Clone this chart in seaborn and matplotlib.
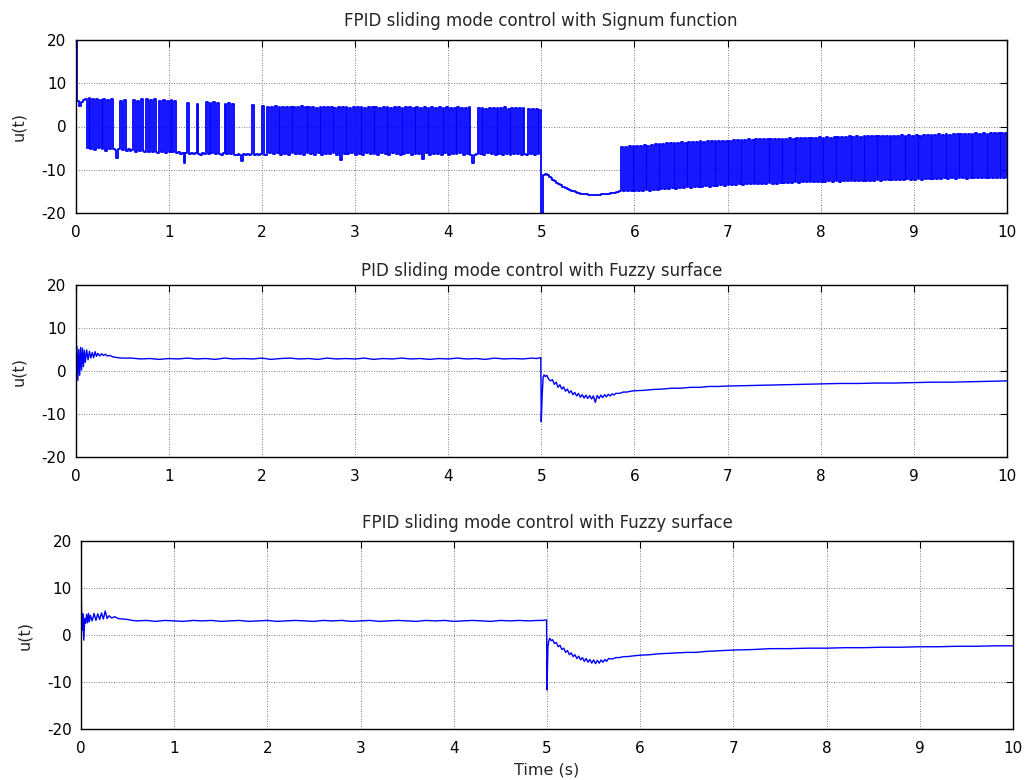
import numpy as np
import pandas as pd
import matplotlib
matplotlib.use("Agg")
import matplotlib.pyplot as plt
import seaborn as sns

# ---------------- data ----------------
titles = ["FPID sliding mode control with Signum function",
          "PID sliding mode control with Fuzzy surface",
          "FPID sliding mode control with Fuzzy surface"]
x_ticks = [0, 1, 2, 3, 4, 5, 6, 7, 8, 9, 10]
y_ticks = [-20, -10, 0, 10, 20]

# Plot 1: signum control, sampled every 0.02 s from 0 to 10 s
sig_u = [
    20.0, 6.0, 4.8, 5.6, 6.2, 6.4, -5.0, 6.5, -5.2, 6.3, -5.4, 6.4, -4.9, 6.1, -5.3, 6.3, -5.6, 6.2, -5.1, 6.4, -5.3, -5.5, -7.3, -5.2, 6.0,
    -5.4, 6.1, -5.6, -5.3, -5.7, -5.5, 6.2, -5.8, 6.0, -5.6, 6.3, -5.7, -6.0, 6.4, -5.9, 6.1, -5.8, 6.3, -6.0, -6.2, 6.0, -5.8, 6.2, -6.1, 5.9,
    -6.0, 6.1, -5.9, 6.0, -6.2, -6.0, -6.4, -6.1, -8.5, -6.2, 5.5, -6.3, -6.1, -6.4, -6.2, 5.3, -6.3, -6.5, -6.2, -6.4, 5.6, -6.3, 5.4, -6.2, 5.7,
    -6.4, 5.5, -6.3, -6.5, -6.2, 5.2, -6.4, 5.4, -6.3, 5.3, -6.5, -6.6, -6.3, -6.5, -8.0, -6.4, -6.6, -6.3, -6.5, -6.4, 5.0, -6.5, -6.3, -6.6, -6.4,
    4.8, -6.5, -6.7, 4.6, -6.2, 4.5, -6.4, 4.7, -6.1, 4.4, -6.6, 4.6, -6.3, 4.5, -6.5, 4.4, -6.2, 4.6, -6.4, 4.5, -6.3, 4.7, -6.6, 4.5, -6.2,
    4.4, -6.3, 4.6, -6.5, 4.3, -6.2, 4.5, -6.6, 4.4, -6.3, 4.5, -6.4, 4.6, -6.1, 4.3, -6.5, 4.5, -7.8, 4.4, -6.3, 4.6, -6.4, 4.3, -6.2, 4.5,
    -6.5, 4.4, -6.3, 4.5, -6.6, 4.3, -6.2, 4.6, -6.4, 4.4, -6.3, 4.5, -6.5, 4.3, -6.1, 4.5, -6.4, 4.4, -6.6, 4.3, -6.2, 4.5, -6.3, 4.4, -6.5,
    4.3, -6.4, 4.5, -6.2, 4.4, -6.6, 4.2, -6.3, 4.5, -6.4, 4.3, -7.5, 4.4, -6.2, 4.3, -6.5, 4.5, -6.3, 4.2, -6.4, 4.4, -6.6, 4.3, -6.2, 4.4,
    -6.5, 4.3, -6.3, 4.2, -6.4, 4.4, -6.2, 4.3, -6.6, 4.2, -6.3, 4.4, -6.5, -8.5, -6.6, -6.4, 4.2, -6.3, 4.3, -6.5, 4.1, -6.2, 4.3, -6.4, 4.2,
    -6.5, 4.3, -6.3, 4.2, -6.6, 4.4, -6.3, 4.1, -6.5, 4.3, -6.4, 4.2, -6.3, 4.3, -6.5, 4.2, -6.4, -6.6, 4.0, -6.3, 4.1, -6.5, 4.0, -6.4, 3.8,
    -20.0, -11.3, -10.9, -11.2, -11.6, -12.0, -12.3, -12.7, -13.0, -13.3, -13.6, -13.9, -14.1, -14.3, -14.5, -14.7, -14.9, -15.0, -15.2, -15.3, -15.4, -15.5, -15.6, -15.7, -15.7,
    -15.8, -15.8, -15.8, -15.9, -15.8, -15.8, -15.8, -15.7, -15.7, -15.6, -15.6, -15.5, -15.4, -15.3, -15.3, -15.2, -15.1, -15.0, -4.8, -15.0, -4.7, -14.9, -4.6, -15.0, -4.6,
    -14.9, -4.5, -14.8, -4.4, -15.0, -4.3, -14.7, -4.4, -14.8, -4.2, -14.6, -4.1, -14.7, -4.0, -14.5, -4.1, -14.4, -3.9, -14.5, -3.8, -14.3, -3.9, -14.4, -3.7, -14.2,
    -3.6, -14.3, -3.7, -14.1, -3.5, -14.2, -3.6, -14.0, -3.5, -13.9, -3.4, -14.0, -3.5, -13.8, -3.4, -13.9, -3.3, -13.7, -3.4, -13.8, -3.3, -13.6, -3.4, -13.7, -3.3,
    -13.6, -3.3, -13.5, -3.2, -13.6, -3.1, -13.4, -3.2, -13.5, -3.1, -13.3, -3.0, -13.4, -3.1, -13.3, -3.0, -13.2, -2.9, -13.3, -3.0, -13.2, -2.9, -13.1, -2.9, -13.2,
    -2.9, -13.2, -2.8, -13.1, -2.9, -13.0, -2.8, -13.1, -2.7, -13.0, -2.8, -12.9, -2.7, -13.0, -2.6, -12.9, -2.7, -12.8, -2.6, -12.9, -2.7, -12.8, -2.6, -12.9, -2.5,
    -12.9, -2.6, -12.8, -2.5, -12.7, -2.6, -12.8, -2.5, -12.7, -2.4, -12.8, -2.5, -12.6, -2.4, -12.7, -2.3, -12.6, -2.4, -12.5, -2.3, -12.6, -2.4, -12.5, -2.3, -12.6,
    -2.3, -12.5, -2.2, -12.6, -2.3, -12.4, -2.2, -12.5, -2.1, -12.4, -2.2, -12.3, -2.1, -12.4, -2.2, -12.3, -2.1, -12.4, -2.0, -12.3, -2.1, -12.2, -2.0, -12.3, -2.1,
    -12.3, -2.0, -12.2, -2.1, -12.3, -1.9, -12.2, -2.0, -12.1, -1.9, -12.2, -2.0, -12.1, -1.8, -12.2, -1.9, -12.0, -1.8, -12.1, -1.9, -12.0, -1.8, -12.1, -1.7, -12.0,
    -1.8, -12.0, -1.7, -12.1, -1.8, -11.9, -1.7, -12.0, -1.6, -11.9, -1.7, -12.0, -1.6, -11.8, -1.7, -11.9, -1.6, -11.8, -1.5, -11.9, -1.6, -11.8, -1.5, -11.9, -1.6,
    -11.8,
]
sig_t = np.linspace(0.0, 10.0, len(sig_u))   # sample instants (0.02 s step)

# Plot 2: PID + fuzzy surface
pid_t = [0.0, 0.005, 0.015, 0.025, 0.035, 0.045, 0.055, 0.065, 0.075, 0.085, 0.095, 0.105, 0.12, 0.135, 0.15,
         0.165, 0.18, 0.195, 0.21, 0.225, 0.24, 0.26, 0.28, 0.30, 0.32, 0.34, 0.37, 0.40, 0.45, 0.50,
         0.6, 0.7, 0.8, 0.9, 1.0, 1.1, 1.2, 1.3, 1.4, 1.5, 1.6, 1.7, 1.8, 1.9, 2.0, 2.1, 2.2, 2.3, 2.4, 2.5,
         2.6, 2.7, 2.8, 2.9, 3.0, 3.1, 3.2, 3.3, 3.4, 3.5, 3.6, 3.7, 3.8, 3.9, 4.0, 4.1, 4.2, 4.3, 4.4, 4.5,
         4.6, 4.7, 4.8, 4.9,
         4.95, 4.995, 5.0, 5.01, 5.02, 5.03, 5.045, 5.06, 5.08, 5.10, 5.12, 5.14, 5.16, 5.18, 5.20, 5.22, 5.24,
         5.26, 5.28, 5.30, 5.32, 5.34, 5.36, 5.38, 5.40, 5.42, 5.44, 5.46, 5.48, 5.50, 5.52, 5.54, 5.56, 5.58,
         5.60, 5.62, 5.64, 5.66, 5.68, 5.70, 5.72, 5.74, 5.76, 5.78, 5.80, 5.84, 5.88, 5.92, 5.96,
         6.0, 6.1, 6.2, 6.3, 6.4, 6.5, 6.6, 6.7, 6.8, 6.9, 7.0, 7.2, 7.4, 7.6, 7.8, 8.0, 8.2, 8.4, 8.6, 8.8,
         9.0, 9.2, 9.4, 9.6, 9.8, 10.0]
pid_u = [15.3, 0.5, 5.8, -2.2, 5.0, -1.0, 5.5, 0.2, 5.3, 1.0, 4.8, 2.0, 4.9, 2.6, 4.6,
         3.0, 4.3, 3.1, 4.5, 3.4, 4.1, 3.5, 4.0, 3.6, 3.9, 3.5, 3.6, 3.3, 3.1, 3.0,
         3.0, 2.8, 2.9, 2.7, 2.9, 2.8, 3.0, 2.8, 2.9, 2.7, 3.0, 2.8, 2.9, 2.8, 3.0, 2.7, 2.9, 3.0, 2.8, 2.9,
         2.7, 3.0, 2.8, 2.9, 2.8, 3.0, 2.7, 2.9, 2.8, 3.0, 2.8, 2.9, 2.7, 2.9, 2.8, 3.0, 2.8, 2.9, 2.7, 3.0,
         2.8, 2.9, 2.8, 3.0,
         2.9, 3.1, -11.8, -5.6, -1.5, -0.9, -1.3, -1.0, -1.9, -2.3, -2.0, -3.1, -2.6, -3.8, -3.2, -4.2, -3.7,
         -4.7, -4.2, -5.1, -4.6, -5.5, -5.0, -5.8, -5.2, -6.1, -5.5, -6.3, -5.6, -6.4, -5.7, -6.5, -5.8, -7.3,
         -5.7, -6.4, -5.6, -6.2, -5.5, -6.0, -5.4, -5.8, -5.3, -5.6, -5.2, -5.2, -4.9, -4.9, -4.7,
         -4.6, -4.5, -4.3, -4.2, -4.0, -4.0, -3.8, -3.8, -3.6, -3.6, -3.5, -3.4, -3.3, -3.2, -3.1, -3.0, -2.9, -2.9, -2.8, -2.8,
         -2.7, -2.6, -2.6, -2.5, -2.4, -2.3]

# Plot 3: FPID + fuzzy surface
fz_t = [0.0, 0.005, 0.012, 0.02, 0.03, 0.04, 0.05, 0.06, 0.07, 0.08, 0.09, 0.10, 0.12, 0.14, 0.16,
        0.18, 0.20, 0.22, 0.24, 0.26, 0.28, 0.30, 0.33, 0.36, 0.40, 0.45, 0.50, 0.55,
        0.6, 0.7, 0.8, 0.9, 1.0, 1.1, 1.2, 1.3, 1.4, 1.5, 1.6, 1.7, 1.8, 1.9, 2.0, 2.1, 2.2, 2.3, 2.4, 2.5,
        2.6, 2.7, 2.8, 2.9, 3.0, 3.1, 3.2, 3.3, 3.4, 3.5, 3.6, 3.7, 3.8, 3.9, 4.0, 4.1, 4.2, 4.3, 4.4, 4.5,
        4.6, 4.7, 4.8, 4.9,
        4.95, 4.995, 5.0, 5.01, 5.02, 5.03, 5.045, 5.06, 5.08, 5.10, 5.12, 5.14, 5.16, 5.18, 5.20, 5.22, 5.24,
        5.26, 5.28, 5.30, 5.32, 5.34, 5.36, 5.38, 5.40, 5.42, 5.44, 5.46, 5.48, 5.50, 5.52, 5.54, 5.56, 5.58,
        5.60, 5.62, 5.64, 5.66, 5.70, 5.74, 5.78, 5.82, 5.86, 5.90, 5.95,
        6.0, 6.1, 6.2, 6.3, 6.4, 6.5, 6.6, 6.7, 6.8, 6.9, 7.0, 7.2, 7.4, 7.6, 7.8, 8.0, 8.2, 8.4, 8.6, 8.8,
        9.0, 9.2, 9.4, 9.6, 9.8, 10.0]
fz_u = [14.9, 5.7, 1.0, 4.5, -1.1, 3.5, 2.5, 4.4, 2.6, 4.6, 2.8, 4.2, 3.0, 4.6, 3.1,
        4.5, 3.3, 4.7, 3.4, 5.1, 3.5, 4.1, 3.6, 3.9, 3.5, 3.4, 3.3, 3.1,
        3.0, 3.1, 2.9, 3.1, 3.0, 2.9, 3.1, 3.0, 3.1, 2.9, 3.0, 3.1, 2.9, 3.0, 3.1, 2.9, 3.0, 3.1, 3.0, 2.9,
        3.1, 3.0, 3.1, 2.9, 3.0, 3.1, 2.9, 3.0, 3.1, 3.0, 2.9, 3.1, 3.0, 3.1, 2.9, 3.0, 3.1, 3.0, 2.9, 3.1,
        3.0, 3.1, 3.0, 3.1,
        3.1, 3.2, -11.7, -2.5, -1.2, -0.7, -1.2, -1.0, -1.8, -1.6, -2.5, -2.2, -3.1, -2.8, -3.7, -3.3, -4.2,
        -3.8, -4.6, -4.2, -5.0, -4.5, -5.3, -4.8, -5.6, -5.0, -5.8, -5.2, -6.0, -5.3, -6.1, -5.4, -6.0, -5.3,
        -5.8, -5.2, -5.6, -5.0, -5.1, -4.8, -4.8, -4.6, -4.6, -4.5, -4.4,
        -4.3, -4.2, -4.0, -3.9, -3.8, -3.7, -3.7, -3.5, -3.4, -3.3, -3.2, -3.1, -2.9, -2.9, -2.8, -2.8, -2.7, -2.7, -2.6, -2.6,
        -2.5, -2.5, -2.4, -2.4, -2.3, -2.3]

assert len(pid_t) == len(pid_u) and len(fz_t) == len(fz_u)

series = [
    pd.DataFrame({"t": sig_t, "u": sig_u}),
    pd.DataFrame({"t": pid_t, "u": pid_u}),
    pd.DataFrame({"t": fz_t, "u": fz_u}),
]

# ---------------- style ----------------
sns.set_style("white")
plt.rcParams["font.family"] = ["DejaVu Sans"]
plt.rcParams["axes.unicode_minus"] = False

W, H = 1025, 780
fig = plt.figure(figsize=(W / 100, H / 100), dpi=100)

# axes boxes in pixels: (left, top, right, bottom)
boxes = [(75.5, 40, 1007, 213), (75.5, 285, 1007, 457), (81, 541, 1013, 729)]
title_pads = [10.3, 6.5, 9.4]
line_widths = [1.3, 1.0, 1.0]
draw_styles = ["steps-post", "default", "default"]

for i, (df, (l, t, r, b)) in enumerate(zip(series, boxes)):
    ax = fig.add_axes([l / W, 1 - b / H, (r - l) / W, (b - t) / H])
    sns.lineplot(data=df, x="t", y="u", ax=ax, color="#0000FF", linewidth=line_widths[i],
                 estimator=None, sort=False, legend=False, drawstyle=draw_styles[i])
    ax.set_xlim(0, 10)
    ax.set_ylim(-20, 20)
    ax.set_xticks(x_ticks)
    ax.set_yticks(y_ticks)
    ax.grid(True, color="#555555", linestyle=(0, (1, 2)), linewidth=0.6)
    ax.tick_params(direction="in", top=True, right=True, length=5, width=0.8,
                   labelsize=11, colors="black")
    ax.tick_params(axis="x", pad=8.5)
    ax.tick_params(axis="y", pad=6.5)
    for s in ax.spines.values():
        s.set_color("black")
        s.set_linewidth(1.0)
        s.set_visible(True)
    ax.set_title(titles[i], fontsize=12, pad=title_pads[i])
    ax.set_ylabel("u(t)", fontsize=11.5, labelpad=11)
    if i == 2:
        ax.set_xlabel("Time (s)", fontsize=11.5, labelpad=5)
    else:
        ax.set_xlabel("")

fig.savefig("out.png", dpi=100)
